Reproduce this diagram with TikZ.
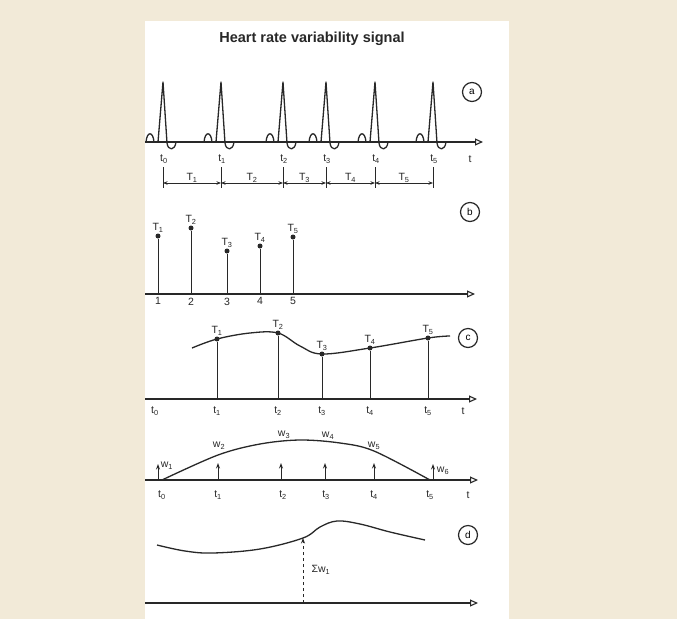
\documentclass[tikz,border=0pt]{standalone}
\usepackage{fontspec}
\setmainfont{Liberation Sans}
\usetikzlibrary{arrows.meta,positioning,calc}
\definecolor{pagebeige}{RGB}{242,234,216}
\definecolor{inkgray}{RGB}{40,40,40}

\begin{document}
\begin{tikzpicture}[x=1pt, y=-1pt,
    axis/.style={draw=inkgray, line width=1.1pt, -{Triangle[open, length=8pt, width=7pt]}},
    wave/.style={draw=inkgray, line width=1.3pt, line join=round},
    stem/.style={draw=inkgray, line width=0.8pt},
    dot/.style={circle, fill=inkgray, inner sep=0pt, minimum size=5pt},
    lbl/.style={font=\fontsize{10.5}{12}\selectfont, text=inkgray, inner sep=0.5pt},
    tag/.style={circle, draw=inkgray, line width=1.2pt, minimum size=19pt, inner sep=0pt, font=\fontsize{10}{11}\selectfont},
    span/.style={{Stealth[length=4.5pt, width=3.5pt]}-{Stealth[length=4.5pt, width=3.5pt]}, draw=inkgray, line width=0.8pt},
    warrow/.style={-{Stealth[length=5.5pt, width=4pt]}, draw=inkgray, line width=0.9pt}
]

% Page and panel
\fill[pagebeige] (0,0) rectangle (677,619);
\fill[white] (145,21) rectangle (509,619);
\node[font=\fontsize{14.5}{16}\selectfont\bfseries, text=inkgray] (title) at (312,39) {Heart rate variability signal};

% (a) ECG beats
\coordinate (a0) at (145,142);
\coordinate (a1) at (483,142);
\draw[axis] (a0) -- (a1);
\foreach \p [count=\i from 0] in {163,221,283,326,375,433} {
  \draw[wave] (\p-17,142) .. controls (\p-16,131) and (\p-10,131) .. (\p-9,142)
    -- (\p-5,142) -- (\p,82) -- (\p+4,143) .. controls (\p+5,151) and (\p+12,151) .. (\p+13,142);
  \node[lbl] (ta\i) at (\p+1,159) {t\textsubscript{\i}};
}
\node[lbl] (taxis) at (470,159) {t};
\node[tag] (taga) at (472,92) {a};

% (a) intervals
\foreach \p [count=\i from 0] in {163,221,283,326,375,433} {
  \coordinate (kt\i) at (\p,167);
  \coordinate (kb\i) at (\p,188);
  \coordinate (km\i) at (\p,183);
  \draw[stem] (kt\i) -- (kb\i);
}
\foreach \i/\j in {0/1,1/2,2/3,3/4,4/5} {
  \draw[span] (km\i) -- (km\j) node[midway, above=0pt, lbl] (T\j) {T\textsubscript{\j}};
}

% (b) interval series
\coordinate (b0) at (145,294);
\coordinate (b1) at (475,294);
\draw[axis] (b0) -- (b1);
\foreach \x/\y [count=\i] in {158/236,191/228,227/251,260/246,293/237} {
  \coordinate (bs\i) at (\x,294);
  \node[dot] (bd\i) at (\x,\y) {};
  \draw[stem] (bs\i) -- (bd\i);
  \node[lbl, above=0.5pt of bd\i] (bT\i) {T\textsubscript{\i}};
  \node[lbl, below=3pt of bs\i] (bn\i) {\i};
}
\node[tag] (tagb) at (470,212) {b};

% (c) interpolated curve
\coordinate (c0) at (145,399);
\coordinate (c1) at (477,399);
\draw[axis] (c0) -- (c1);
\draw[wave] plot[smooth, tension=0.6] coordinates {(192,348) (217,339) (250,333) (278,333) (300,346) (322,354) (370,348) (428,338) (450,336)};
\foreach \x/\y [count=\i] in {217/339,278/333,322/354,370/348,428/338} {
  \coordinate (cs\i) at (\x,399);
  \node[dot] (cd\i) at (\x,\y) {};
  \draw[stem] (cs\i) -- (cd\i);
  \node[lbl, above=0.5pt of cd\i] (cT\i) {T\textsubscript{\i}};
}
\foreach \x [count=\i from 0] in {155,217,278,322,370,428} {
  \node[lbl] (ct\i) at (\x,411) {t\textsubscript{\i}};
}
\node[lbl] (caxis) at (463,411) {t};
\node[tag] (tagc) at (468,338) {c};

% window weights
\coordinate (w0) at (145,480);
\coordinate (w1) at (478,480);
\draw[axis] (w0) -- (w1);
\draw[wave] plot[smooth, tension=0.55] coordinates {(162,480) (218,455) (260,444) (300,440) (340,443) (374,451) (430,480)};
\foreach \x/\y [count=\i from 0] in {158/464,218/463,281/463,325/463,374/463,433/464} {
  \coordinate (wb\i) at (\x,480);
  \coordinate (wt\i) at (\x,\y);
  \draw[warrow] (wb\i) -- (wt\i);
}
\node[lbl] (wl1) at (167,466) {w\textsubscript{1}};
\node[lbl] (wl2) at (219,446) {w\textsubscript{2}};
\node[lbl] (wl3) at (284,435) {w\textsubscript{3}};
\node[lbl] (wl4) at (328,436) {w\textsubscript{4}};
\node[lbl] (wl5) at (374,446) {w\textsubscript{5}};
\node[lbl] (wl6) at (443,471) {w\textsubscript{6}};
\foreach \x [count=\i from 0] in {162,218,283,326,374,430} {
  \node[lbl] (wt\i) at (\x,495) {t\textsubscript{\i}};
}
\node[lbl] (waxis) at (468,495) {t};

% (d) weighted sum
\coordinate (d0) at (145,603);
\coordinate (d1) at (478,603);
\draw[axis] (d0) -- (d1);
\draw[wave] plot[smooth, tension=0.6] coordinates {(157,545) (185,551) (213,553) (260,549) (303,538) (320,527) (337,521) (360,524) (390,532) (425,540)};
\coordinate (sb) at (303,603);
\coordinate (st) at (303,538);
\draw[warrow, dashed, line width=0.7pt] (sb) -- (st);
\node[lbl] (sw) at (321,570) {Σw\textsubscript{1}};
\node[tag] (tagd) at (468,535) {d};

\end{tikzpicture}
\end{document}
